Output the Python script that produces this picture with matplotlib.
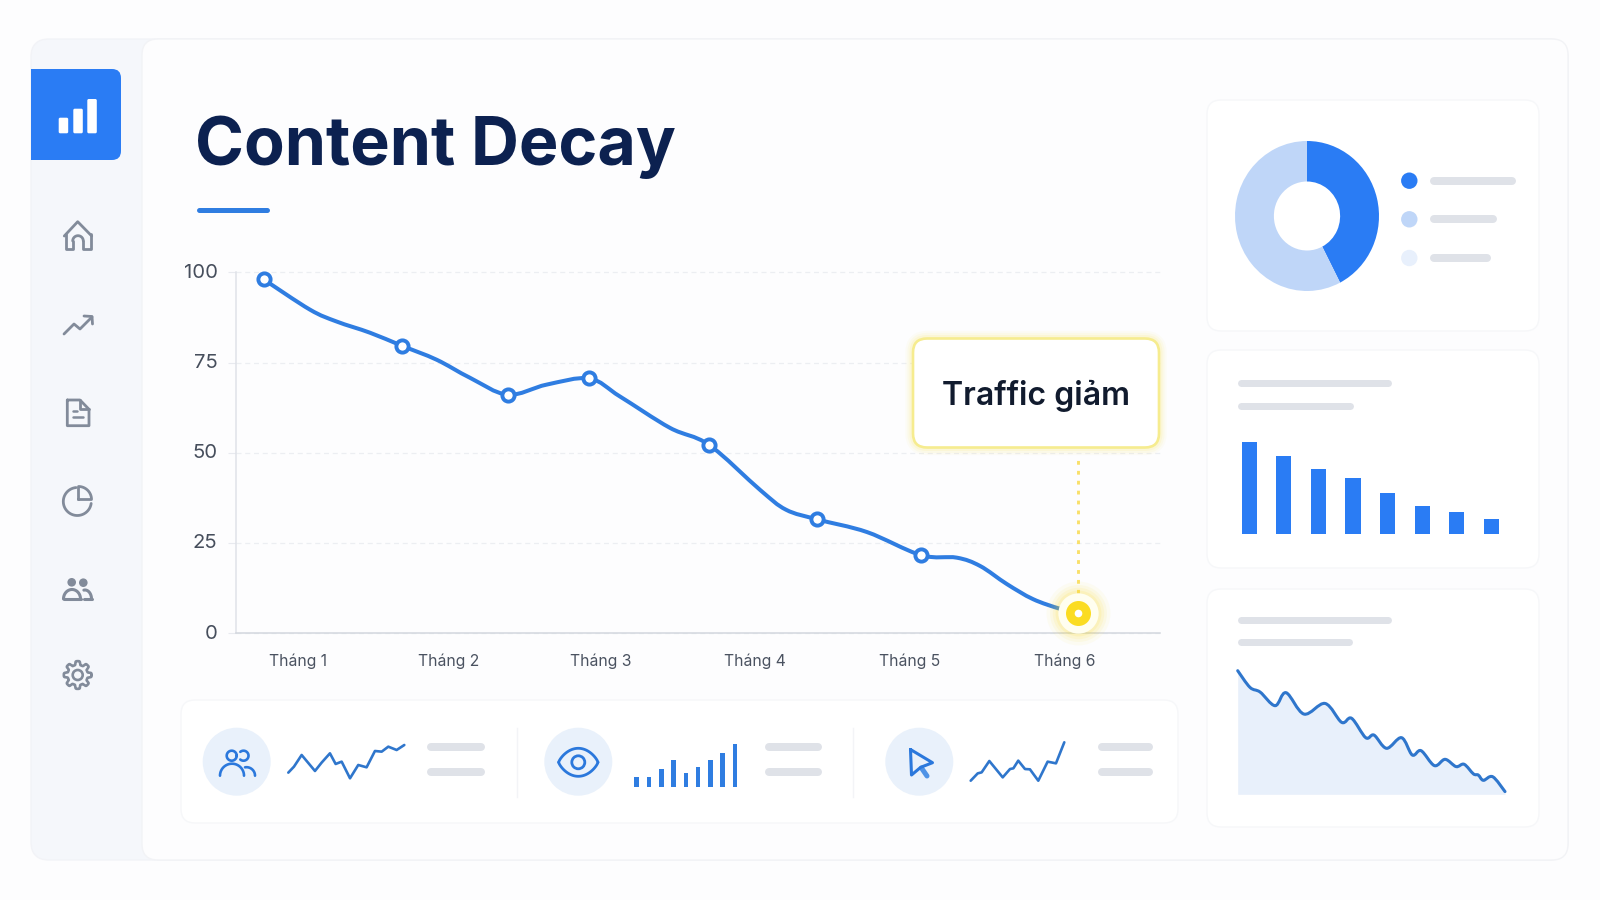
import matplotlib
matplotlib.use("Agg")
import matplotlib.pyplot as plt
import numpy as np
from matplotlib.patches import Circle, FancyBboxPatch, PathPatch, Rectangle
from matplotlib.path import Path
from matplotlib.transforms import ScaledTranslation

W, H = 1600, 900

BLUE = "#2a7cf4"
LINE_BLUE = "#2f7de1"
SPARK_BLUE = "#2f76cc"
PALE_BLUE = "#bfd6f8"
PALEST_BLUE = "#e8f0fc"
ICON_GREY = "#828b9a"
BAR_GREY = "#dfe2e8"
YELLOW = "#fbdc22"

# main traffic curve, x in month positions
traffic_x = [0.776, 1.078, 1.252, 1.469, 1.676, 1.904, 2.121, 2.367, 2.621, 2.899, 3.099, 3.425,
             3.679, 4.012, 4.181, 4.386, 4.709, 5.061, 5.294, 5.446, 5.620, 5.791, 5.968, 6.087]
traffic_y = [98.1, 89.7, 86.4, 83.3, 79.7, 75.8, 70.8, 66.1, 68.9, 70.6, 65.6, 56.9,
             52.2, 39.7, 34.2, 31.5, 28.0, 21.6, 20.9, 18.6, 13.6, 9.4, 6.7, 5.5]
marker_idx = [0, 4, 7, 9, 12, 15, 17]
month_labels = ["Tháng 1", "Tháng 2", "Tháng 3", "Tháng 4", "Tháng 5", "Tháng 6"]
month_ticks = [1, 1.98, 2.97, 3.98, 4.99, 6]
y_ticks = [0, 25, 50, 75, 100]

# side panels
donut_values = [42.4, 57.6]
bar_values = [91.7, 77.3, 65, 56, 40.7, 28.3, 22, 15]
area_x = [0, 4.6, 8.4, 14, 18.1, 24.8, 32.7, 38.9, 42.6, 47.9, 51, 55.7, 61.3, 65.3, 68.6, 73.6,
          77.6, 81.7, 84.7, 88.2, 90, 91.9, 95.4, 100]
area_y = [100, 86.5, 82.7, 71.7, 82.2, 64.9, 73.5, 58.2, 61.5, 45.8, 47.9, 37.2, 45.8, 31.8, 35.3,
          23.2, 28.3, 22.4, 24.3, 16.5, 15.6, 11.3, 14.2, 2.2]

# bottom strip
spark1_x = [0, 4.9, 11.5, 23, 28.7, 35.9, 40.8, 46, 53.2, 60.3, 67.5, 74.7, 80.5, 86.2, 93.4, 100]
spark1_y = [17, 35, 70, 22, 47, 75, 43, 50, 0, 40, 33, 82, 80, 95, 85, 100]
spark2_x = [0, 7.5, 11.7, 19.9, 34.2, 42, 45.6, 50.8, 58, 63.3, 72.2, 82.2, 91.1, 100]
spark2_y = [0, 19.1, 21.7, 51.3, 8.7, 30.4, 32.2, 52.2, 30.4, 29.6, 0, 49.6, 45.2, 100]
mini_bars = [10, 10, 18, 27, 14, 20, 27, 34, 43]

plt.rcParams["font.family"] = ["Inter", "DejaVu Sans"]


def axes_px(x0, y0, x1, y1, zorder=2):
    ax = fig.add_axes([x0 / W, 1 - y1 / H, (x1 - x0) / W, (y1 - y0) / H], zorder=zorder)
    ax.patch.set_visible(False)
    return ax


def smooth_path(xs, ys):
    # Catmull-Rom through the points, as cubic bezier segments
    pts = np.column_stack([xs, ys])
    verts = [pts[0]]
    codes = [Path.MOVETO]
    for i in range(len(pts) - 1):
        p0 = pts[max(i - 1, 0)]
        p1 = pts[i]
        p2 = pts[i + 1]
        p3 = pts[min(i + 2, len(pts) - 1)]
        verts += [p1 + (p2 - p0) / 6, p2 - (p3 - p1) / 6, p2]
        codes += [Path.CURVE4] * 3
    return Path(verts, codes)


def draw_curve(ax, xs, ys, color, lw, zorder=3):
    ax.add_patch(PathPatch(smooth_path(xs, ys), fc="none", ec=color, lw=lw, capstyle="round",
                           joinstyle="round", zorder=zorder, clip_on=False))


def card(ax, x0, y0, x1, y1, r=14, fc="white", ec="#f6f7f9", lw=1.0, zorder=1):
    box = FancyBboxPatch((x0, y0), x1 - x0, y1 - y0, boxstyle=f"round,pad=0,rounding_size={r}",
                         fc=fc, ec=ec, lw=lw, zorder=zorder)
    ax.add_patch(box)


def pill(ax, x0, x1, y, h=8, color=BAR_GREY):
    ax.plot([x0 + h / 2, x1 - h / 2], [y, y], color=color, lw=h * 0.72, solid_capstyle="round", zorder=3)


def arc(cx, cy, r, a0=0, a1=360, ry=None):
    t = np.radians(np.linspace(a0, a1, 40))
    return cx + r * np.cos(t), cy - (ry or r) * np.sin(t)


def stroke(ax, xs, ys, color=ICON_GREY, lw=2.0, closed=False):
    xs, ys = list(xs), list(ys)
    if closed:
        xs.append(xs[0])
        ys.append(ys[0])
    ax.plot(xs, ys, color=color, lw=lw, solid_capstyle="round", solid_joinstyle="round", zorder=4)


fig = plt.figure(figsize=(W / 100, H / 100), dpi=100, facecolor="#fdfdfe")

# background layer in pixel coordinates
bg = axes_px(0, 0, W, H, zorder=0)
bg.set_xlim(0, W)
bg.set_ylim(H, 0)
bg.axis("off")

card(bg, 31, 39, 1568, 860, r=18, fc="#f5f7fb", ec="#f2f3f7")
card(bg, 142, 39, 1568, 860, r=16, fc="#fdfdfe", ec="#f2f3f6", zorder=1.5)

# logo tile
card(bg, 31, 69, 121, 160, r=9, fc=BLUE, ec="none", lw=0, zorder=2)
bg.add_patch(Rectangle((31, 69), 20, 91, fc=BLUE, ec="none", zorder=2))
for x0, top in [(58.7, 117.7), (73.3, 108.7), (87.3, 99)]:
    card(bg, x0, top, x0 + 9.5, 133.3, r=1.5, fc="white", ec="none", lw=0, zorder=3)

# title
bg.text(195, 165, "Content Decay", fontsize=47.8, fontweight="bold", color="#0c2150", va="baseline", zorder=3)
bg.plot([199, 267], [210, 210], color=LINE_BLUE, lw=3.6, solid_capstyle="round", zorder=3)

# sidebar icons
stroke(bg, [64.3, 77.7, 91.7], [236, 221.7, 236])
stroke(bg, [66, 66, 72.7, 72.7], [234, 249.3, 249.3, 241])
door_x, door_y = arc(78, 241, 5.3, 180, 0)
stroke(bg, door_x, door_y)
stroke(bg, [83.3, 83.3, 90.5, 90.5], [241, 249.3, 249.3, 234])

stroke(bg, [64, 74, 80, 92], [334, 324, 329, 317])
stroke(bg, [84, 92, 92.5], [316, 316.5, 324])

stroke(bg, [67.3, 80, 89, 89, 67.3], [400, 400, 409.3, 425.7, 425.7], closed=True)
stroke(bg, [80, 80, 89], [400, 409.3, 409.3])
stroke(bg, [72.7, 77.3], [410.7, 410.7], lw=1.8)
stroke(bg, [72.7, 82.7], [417.3, 417.3], lw=1.8)

px, py = arc(77.3, 501.5, 14, 95, 352)
stroke(bg, px, py)
px, py = arc(78.5, 499.5, 13, 0, 90)
stroke(bg, [78.5] + list(px[::-1]) + [78.5], [499.5] + list(py[::-1]) + [499.5])

for cx, cy, r in [(71.7, 582.3, 4.3), (83.3, 582.7, 4.3)]:
    bg.add_patch(Circle((cx, cy), r, fc=ICON_GREY, ec="none", zorder=4))
px, py = arc(72, 599, 8.5, 180, 0, ry=9.5)
stroke(bg, px, py, lw=2.2)
stroke(bg, [63.5, 80.5], [599, 599], lw=2.2)
px, py = arc(85, 599, 6.5, 100, 0, ry=9)
stroke(bg, px, py, lw=2.2)
stroke(bg, [84, 91.5], [599, 599], lw=2.2)

theta = np.linspace(0, 2 * np.pi, 161)
gear_r = 12 + 1.9 * np.tanh(3 * np.cos(8 * theta))
stroke(bg, 77.7 + gear_r * np.cos(theta), 675 + gear_r * np.sin(theta), lw=1.9)
bg.add_patch(Circle((77.7, 675), 5, fc="none", ec=ICON_GREY, lw=1.9, zorder=4))

# right column cards
card(bg, 1207, 100, 1539, 331, r=14, zorder=2)
card(bg, 1207, 350, 1539, 568, r=14, zorder=2)
card(bg, 1207, 589, 1539, 827, r=14, zorder=2)
for color, y, x1 in [(BLUE, 180.7, 1515.7), (PALE_BLUE, 219.3, 1496.7), (PALEST_BLUE, 258, 1491)]:
    bg.add_patch(Circle((1409.3, y), 8.2, fc=color, ec="none", zorder=3))
    pill(bg, 1430, x1, y)
pill(bg, 1237.5, 1391.3, 382.7, h=7)
pill(bg, 1237.5, 1353.3, 406, h=7)
pill(bg, 1237.5, 1391, 620.3, h=7)
pill(bg, 1237.5, 1352.7, 641.7, h=7)

# bottom strip
card(bg, 181, 700, 1178, 823, r=14, zorder=2)
for x in [517.3, 853.3]:
    bg.plot([x, x], [728, 797], color="#f3f4f7", lw=1.0, zorder=3)
for cx in [236.7, 578.3, 919.3]:
    bg.add_patch(Circle((cx, 761.7), 34, fc="#e9f1fb", ec="none", zorder=3))
for x0, x1 in [(426.7, 485), (765, 821.5), (1098.3, 1153.3)]:
    pill(bg, x0, x1, 746.7)
    pill(bg, x0, x1, 771.5)

# people icon
ICON_BLUE = "#2b78dc"
px, py = arc(231.7, 755.7, 5)
stroke(bg, px, py, color=ICON_BLUE, lw=1.9)
px, py = arc(243.5, 755.7, 5, -130, 130)
stroke(bg, px, py, color=ICON_BLUE, lw=1.9)
px, py = arc(232, 775.7, 12, 180, 0)
stroke(bg, px, py, color=ICON_BLUE, lw=1.9)
px, py = arc(246.5, 775.7, 8.5, 100, 0)
stroke(bg, px, py, color=ICON_BLUE, lw=1.9)

# eye icon
u = np.linspace(-1, 1, 50)
stroke(bg, 578.3 + 19.7 * u, 762.3 - 14 * (1 - u ** 2) ** 0.8, color=ICON_BLUE, lw=2.0)
stroke(bg, 578.3 + 19.7 * u, 762.3 + 14 * (1 - u ** 2) ** 0.8, color=ICON_BLUE, lw=2.0)
bg.add_patch(Circle((578.3, 762.3), 6.5, fc="none", ec=ICON_BLUE, lw=2.0, zorder=4))

# cursor icon
stroke(bg, [921.5, 927], [768, 776], color="#4f93e6", lw=3.6)
stroke(bg, [910.5, 932.5, 920.7, 911.5], [749.5, 762.7, 767.3, 775], color=ICON_BLUE, lw=2.2, closed=True)

# main chart
ax = axes_px(236, 272.5, 1160, 633, zorder=2)
ax.set_xlim(0.596, 6.619)
ax.set_ylim(0, 100)
for side in ["top", "right"]:
    ax.spines[side].set_visible(False)
ax.spines["left"].set_color("#dfe2e8")
ax.spines["left"].set_linewidth(1.1)
ax.spines["bottom"].set_color("#d3d7de")
ax.spines["bottom"].set_linewidth(1.1)
ax.set_yticks(y_ticks)
ax.set_xticks(month_ticks)
ax.set_xticklabels(month_labels)
ax.tick_params(axis="y", length=5.8, width=0.8, color="#e8eaef", pad=7.5, labelsize=14.6, labelcolor="#464e5c")
ax.tick_params(axis="x", length=0, pad=14.5, labelsize=11.3, labelcolor="#4a5260")
ax.yaxis.grid(True, color="#eceef2", lw=0.9, ls=(0, (4, 3)))
ax.set_axisbelow(True)
for gridline in ax.get_ygridlines():
    gridline.set_clip_on(False)

# y labels sit slightly above their gridlines
lift = ScaledTranslation(0, 1 / 72, fig.dpi_scale_trans)
for label in ax.get_yticklabels():
    label.set_transform(label.get_transform() + lift)

draw_curve(ax, traffic_x, traffic_y, LINE_BLUE, 2.9)
ax.plot([traffic_x[i] for i in marker_idx], [traffic_y[i] for i in marker_idx], ls="none", marker="o", ms=8.8,
        mfc="white", mec=LINE_BLUE, mew=2.8, zorder=4, clip_on=False)

# dotted leader up to the callout
ax.plot([traffic_x[-1]] * 2, [traffic_y[-1], 49], color="#f9e06a", lw=2.1, ls=(0, (1.3, 2.1)), zorder=4)

# end point with its glow
for size, alpha in [(46, 0.05), (41, 0.07), (37, 0.09), (33, 0.12)]:
    ax.plot(traffic_x[-1], traffic_y[-1], marker="o", ms=size, mfc=YELLOW, mec="none", alpha=alpha, zorder=5,
            clip_on=False)
ax.plot(traffic_x[-1], traffic_y[-1], marker="o", ms=29, mfc="#fffef0", mec="none", zorder=5, clip_on=False)
ax.plot(traffic_x[-1], traffic_y[-1], marker="o", ms=18, mfc=YELLOW, mec="none", zorder=6, clip_on=False)
ax.plot(traffic_x[-1], traffic_y[-1], marker="o", ms=5.5, mfc="white", mec="none", zorder=7, clip_on=False)

# callout box on top of the grid
fg = axes_px(0, 0, W, H, zorder=3)
fg.set_xlim(0, W)
fg.set_ylim(H, 0)
fg.axis("off")
for lw, alpha in [(11, 0.04), (8, 0.06), (5, 0.09)]:
    box = FancyBboxPatch((913, 338.5), 246, 109, boxstyle="round,pad=0,rounding_size=14", fc="none",
                         ec=YELLOW, lw=lw, alpha=alpha, zorder=1)
    fg.add_patch(box)
card(fg, 913, 338.5, 1159, 447.5, r=14, fc="white", ec="#f6ec8f", lw=1.9, zorder=2)
fg.text(1036, 396, "Traffic giảm", fontsize=23.1, fontweight="semibold", color="#111b2e", ha="center",
        va="center", zorder=3)

# donut
donut = axes_px(1235, 141, 1379, 291)
donut.pie(donut_values, colors=[BLUE, PALE_BLUE], startangle=90, counterclock=False, radius=1,
          wedgeprops={"width": 0.54, "linewidth": 0})
donut.set_aspect("auto")
donut.set_xlim(-1, 1)
donut.set_ylim(-1, 1)

# bars
bars = axes_px(1232, 442, 1508.7, 534)
bars.bar(range(len(bar_values)), bar_values, width=0.44, color=BLUE)
bars.set_xlim(-0.5, len(bar_values) - 0.5)
bars.set_ylim(0, max(bar_values))
bars.axis("off")

# declining area
area = axes_px(1237.7, 670.7, 1505, 794.3)
area.fill_between(area_x, area_y, 0, color="#e8f0fb", lw=0)
draw_curve(area, area_x, area_y, SPARK_BLUE, 2.2)
area.set_xlim(0, 100)
area.set_ylim(0, 100)
area.axis("off")

# strip sparklines
spark1 = axes_px(288.3, 745, 404.3, 778.3)
spark1.plot(spark1_x, spark1_y, color=SPARK_BLUE, lw=1.9, solid_joinstyle="round", solid_capstyle="round",
            clip_on=False)
spark1.set_xlim(0, 100)
spark1.set_ylim(0, 100)
spark1.axis("off")

strip_bars = axes_px(630.6, 742.7, 741.1, 786.7)
strip_bars.bar(range(len(mini_bars)), mini_bars, width=0.38, color="#2f7de1")
strip_bars.set_xlim(-0.5, len(mini_bars) - 0.5)
strip_bars.set_ylim(0, 44)
strip_bars.axis("off")

spark2 = axes_px(970.7, 742.3, 1064.3, 780.7)
spark2.plot(spark2_x, spark2_y, color=SPARK_BLUE, lw=1.9, solid_joinstyle="round", solid_capstyle="round",
            clip_on=False)
spark2.set_xlim(0, 100)
spark2.set_ylim(0, 100)
spark2.axis("off")

fig.savefig("out.png", dpi=100, facecolor=fig.get_facecolor())
